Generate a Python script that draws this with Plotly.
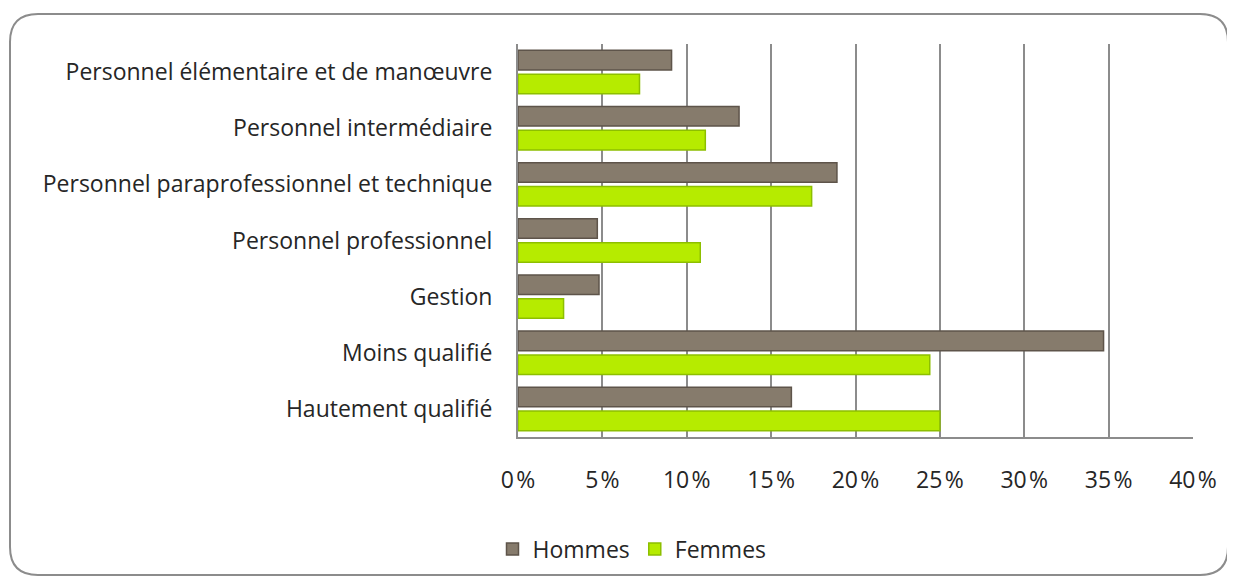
import plotly.graph_objects as go

categories = [
    "Personnel élémentaire et de manœuvre",
    "Personnel intermédiaire",
    "Personnel paraprofessionnel et technique",
    "Personnel professionnel",
    "Gestion",
    "Moins qualifié",
    "Hautement qualifié",
]
hommes = [9.1, 13.1, 18.9, 4.7, 4.8, 34.7, 16.2]
femmes = [7.2, 11.1, 17.4, 10.8, 2.7, 24.4, 25.0]
tick_vals = [0, 5, 10, 15, 20, 25, 30, 35, 40]
tick_text = [f"{v}\u200a%" for v in tick_vals]

OFF = 8  # default body margin of the html page
W, H = 1235 - OFF, 582 - OFF
L, R, T, B = 518 - OFF, 1193 - OFF, 44 - OFF, 437 - OFF
FONT = "Open Sans"
FS = 23

fig = go.Figure()
fig.add_trace(go.Bar(
    y=categories, x=hommes, name="Hommes", orientation="h",
    marker=dict(color="#867B6C", line=dict(color="#5E544A", width=1.5)),
))
fig.add_trace(go.Bar(
    y=categories, x=femmes, name="Femmes", orientation="h",
    marker=dict(color="#B6EB00", line=dict(color="#8DBF00", width=1.5)),
))

def px(x):
    return (x - OFF - L) / (R - L)

def py(y):
    return (B - (y - OFF)) / (B - T)

# rounded border
x0, x1, y0, y1, r = 10, 1228, 14, 575, 28
path = (
    f"M {px(x0 + r)} {py(y0)} L {px(x1 - r)} {py(y0)} "
    f"Q {px(x1)} {py(y0)} {px(x1)} {py(y0 + r)} "
    f"L {px(x1)} {py(y1 - r)} Q {px(x1)} {py(y1)} {px(x1 - r)} {py(y1)} "
    f"L {px(x0 + r)} {py(y1)} Q {px(x0)} {py(y1)} {px(x0)} {py(y1 - r)} "
    f"L {px(x0)} {py(y0 + r)} Q {px(x0)} {py(y0)} {px(x0 + r)} {py(y0)} Z"
)
fig.add_shape(type="path", path=path, xref="paper", yref="paper",
              line=dict(color="#8C8C8C", width=2), layer="below")

fig.update_layout(
    width=W, height=H,
    margin=dict(l=L, r=W - R, t=T, b=H - B, autoexpand=False),
    paper_bgcolor="white", plot_bgcolor="white",
    barmode="group", bargap=0.15, bargroupgap=0.18,
    font=dict(family=FONT, size=FS, color="#262626"),
    showlegend=True,
    legend=dict(orientation="h", x=px(632), xanchor="center", y=py(549), yanchor="middle",
                font=dict(size=FS, family=FONT), traceorder="normal",
                bgcolor="rgba(0,0,0,0)", itemwidth=30),
    xaxis=dict(range=[0, 40], tickvals=tick_vals, ticktext=tick_text,
               showgrid=True, gridcolor="#8C8C8C", gridwidth=2,
               showline=True, linecolor="#8C8C8C", linewidth=2,
               zeroline=False, ticks="", ticklabelstandoff=21,
               tickfont=dict(size=FS, family=FONT)),
    yaxis=dict(autorange="reversed", showgrid=False, showline=True,
               linecolor="#8C8C8C", linewidth=2, ticks="",
               ticklabelstandoff=19, tickfont=dict(size=FS, family=FONT)),
)

fig.write_html("out.html")
